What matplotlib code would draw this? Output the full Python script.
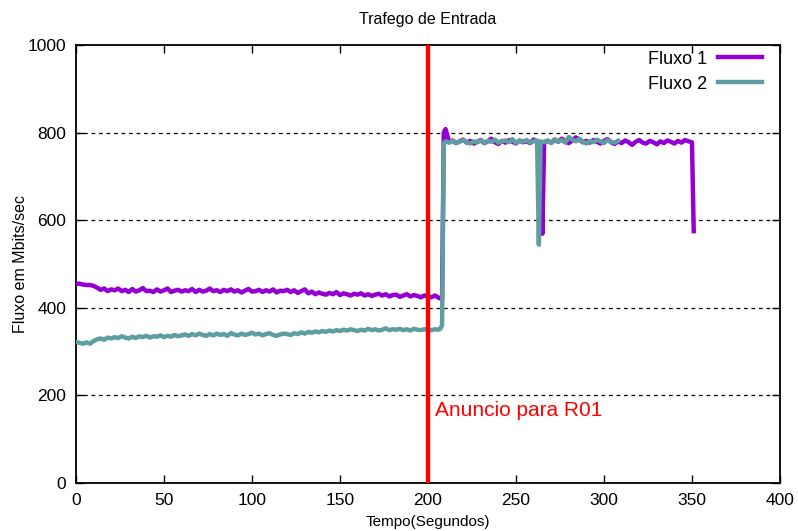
import matplotlib.pyplot as plt
import numpy as np

plt.rcParams['font.family'] = ['Liberation Sans', 'DejaVu Sans']

# Fluxo 1 - before the announcement (every 2 s, 0..208)
f1_pre = [455, 455, 453, 452, 452, 450,
          446, 441, 444, 438, 442,
          440, 444, 438, 441, 436, 443, 437, 440, 445, 438,
          439, 436, 442, 437, 440, 444, 436, 439, 441, 437,
          440, 438, 443, 436, 441, 437, 439, 444, 438, 440,
          436, 441, 438, 442, 437, 440, 435, 439, 443, 437,
          438, 441, 436, 440, 437, 442, 435, 439, 438, 441,
          436, 440, 434, 438, 442, 433, 437, 431, 435, 432,
          430, 434, 431, 436, 429, 433, 431, 428, 432, 430,
          433, 428, 431, 427, 430, 432, 428, 431, 426, 429,
          430, 425, 428, 431, 426, 429, 427, 424, 428, 426,
          424, 428, 423, 420]
# Fluxo 1 - after (212..262, dip at 265, 268..350, drop at 351)
f1_post_a = [778, 782, 776, 780, 784, 777, 781, 775, 779, 783,
             776, 780, 786, 778, 774, 781, 777, 783, 779, 775,
             782, 778, 780, 776, 784, 779]
f1_dip = [775, 569, 778]
f1_post_b = [781, 777, 783, 779, 786, 780, 776, 782, 789, 784,
             778, 781, 777, 783, 779, 775, 781, 785, 778, 774,
             780, 776, 782, 778, 772, 779, 783, 777, 775, 781,
             778, 773, 780, 776, 782, 779, 775, 781, 777, 783,
             780, 778]

# Fluxo 2 - before (every 2 s, 0..206)
f2_pre = [322, 320, 318, 321, 318, 324,
          328, 330, 327, 332, 330,
          333, 331, 335, 332, 330, 334, 331, 335, 333, 336,
          332, 335, 334, 337, 333, 336, 334, 338, 335, 337,
          339, 336, 340, 337, 341, 338, 336, 340, 337, 341,
          338, 340, 336, 342, 339, 337, 341, 338, 340, 343,
          339, 341, 337, 340, 342, 338, 336, 339, 341, 340,
          338, 342, 340, 344, 341, 345, 343, 346, 344, 347,
          345, 348, 346, 349, 347, 350, 348, 351, 349, 347,
          350, 348, 352, 349, 351, 348, 350, 353, 349, 351,
          350, 352, 349, 351, 348, 352, 350, 349, 351, 350,
          349, 351, 350]
f2_jump = [352, 360, 775]
f2_post_a = [780, 777, 781, 776, 779, 783, 778, 775, 780, 778,
             782, 776, 781, 779, 784, 777, 780, 782, 778, 785,
             776, 781, 779, 783, 777, 780, 782]
f2_dip = [544, 780]
f2_post_b = [778, 782, 776, 785, 779, 783, 777, 790, 784, 780,
             786, 779, 775, 781, 778, 784, 780, 776, 783, 779,
             777, 781]

t1 = np.concatenate([np.arange(0, 209, 2), [209, 210], np.arange(212, 263, 2),
                     [264, 265, 266], np.arange(268, 351, 2), [351]])
y1 = np.concatenate([f1_pre, [800, 808], f1_post_a, f1_dip, f1_post_b, [575]])

t2 = np.concatenate([np.arange(0, 207, 2), [207, 208, 209], np.arange(210, 263, 2),
                     [263, 264], np.arange(266, 309, 2)])
y2 = np.concatenate([f2_pre, f2_jump, f2_post_a, f2_dip, f2_post_b])

fig = plt.figure(figsize=(7.98, 5.31), dpi=100)
ax = fig.add_axes([0.0952, 0.0904, 0.8822, 0.8249])

for yv in [200, 400, 600, 800]:
    ax.axhline(yv, color='black', lw=0.9, ls=(0, (3, 3)), zorder=1)

ax.plot(t1, y1, color='#9400D3', lw=3.2, label='Fluxo 1', zorder=3)
ax.plot(t2, y2, color='#5F9EA0', lw=3.2, label='Fluxo 2', zorder=4)
ax.axvline(200, color='red', lw=3.2, zorder=5)
ax.text(204, 166, 'Anuncio para R01', color='red', fontsize=15, va='center')

ax.set_xlim(0, 400)
ax.set_ylim(0, 1000)
ax.set_xticks(range(0, 401, 50))
ax.set_yticks(range(0, 1001, 200))
ax.tick_params(direction='in', top=True, right=True, length=6, width=1,
               labelsize=12.5, pad=7)
for s in ax.spines.values():
    s.set_linewidth(1.3)

ax.set_title('Trafego de Entrada', fontsize=11.5, pad=15)
ax.set_xlabel('Tempo(Segundos)', fontsize=11, labelpad=5)
ax.set_ylabel('Fluxo em Mbits/sec', fontsize=11.5, labelpad=0)
ax.legend(loc='upper right', bbox_to_anchor=(0.974, 0.987), frameon=False,
          markerfirst=False, fontsize=13, handlelength=2.4, borderpad=0,
          borderaxespad=0, labelspacing=0.45, handletextpad=0.6)

fig.savefig('out.png', dpi=100)
